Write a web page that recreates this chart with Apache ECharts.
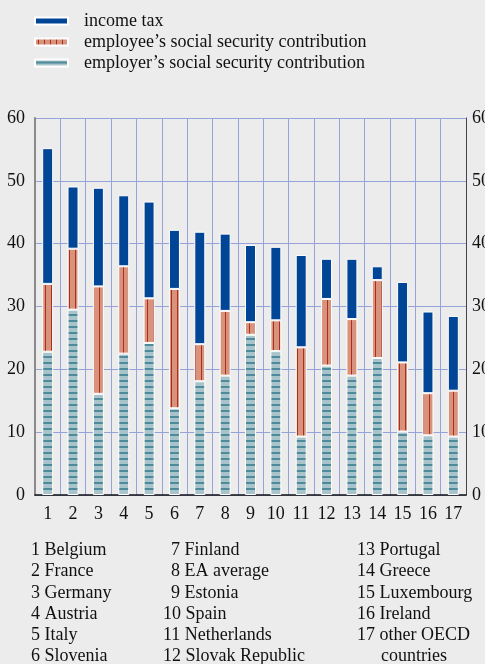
<!DOCTYPE html>
<html>
<head>
<meta charset="utf-8">
<script src="https://cdn.jsdelivr.net/npm/echarts@6/dist/echarts.min.js"></script>
<style>
  html, body { margin: 0; padding: 0; background: #ececec; }
  #chart { width: 485px; height: 664px; }
</style>
</head>
<body>
<div id="chart"></div>
<script>
// categories (numbers on the x axis)
var categories = ['1','2','3','4','5','6','7','8','9','10','11','12','13','14','15','16','17'];
// country names for the key under the chart
var countries = ['Belgium','France','Germany','Austria','Italy','Slovenia','Finland','EA average',
  'Estonia','Spain','Netherlands','Slovak Republic','Portugal','Greece','Luxembourg','Ireland','other OECD'];

// % of labour cost
var incomeTax = [21.6, 9.9, 15.7, 11.3, 15.4, 9.4, 17.9, 12.3, 12.3, 11.7, 14.7, 6.4, 9.6, 2.2, 12.8, 13.0, 11.9];
var employeeSSC = [10.8, 9.7, 17.1, 13.9, 7.1, 19.0, 5.9, 10.3, 2.0, 4.9, 14.2, 10.6, 9.0, 12.4, 11.0, 6.7, 7.3];
var employerSSC = [22.8, 29.5, 16.1, 22.5, 24.2, 13.8, 18.1, 19.0, 25.5, 22.9, 9.3, 20.6, 19.0, 21.8, 10.1, 9.5, 9.3];

var serif = '"Liberation Serif", "DejaVu Serif", serif';

//  pattern fills
function stripes(w, h, bg, fg, draw) {
  var c = document.createElement('canvas');
  c.width = w; c.height = h;
  var ctx = c.getContext('2d');
  ctx.fillStyle = bg;
  ctx.fillRect(0, 0, w, h);
  ctx.fillStyle = fg;
  draw(ctx);
  return { image: c, repeat: 'repeat' };
}
var employeePattern = stripes(6, 4, '#d9937d', '#a9301e', function (ctx) { ctx.fillRect(3, 0, 1, 4); });
var employerPattern = stripes(4, 6, '#a9c3cb', '#4d8b9b', function (ctx) { ctx.fillRect(0, 2, 4, 2); });

var myChart = echarts.init(document.getElementById('chart'));

//  key under the chart
var graphics = [];
var colX = [31, 163, 357];
var rowTop = 541.5, rowStep = 21.2;
countries.forEach(function (name, i) {
  var col = Math.floor(i / 6), row = i % 6;
  var x = colX[col];
  if (col === 1 && i < 9) x = 171;
  graphics.push({
    type: 'text', left: x, top: rowTop + row * rowStep,
    style: { text: (i + 1) + ' ' + name, font: '18px ' + serif, fill: '#111' }
  });
});
graphics.push({
  type: 'text', left: 381, top: rowTop + 5 * rowStep,
  style: { text: 'countries', font: '18px ' + serif, fill: '#111' }
});

var barStyle = { borderColor: '#ffffff', borderWidth: 1 };

var option = {
  backgroundColor: '#ececec',
  animation: false,
  legend: {
    orient: 'vertical',
    left: 34,
    top: 12,
    padding: 0,
    itemWidth: 33,
    itemHeight: 7,
    itemGap: 3,
    icon: 'rect',
    data: ['income tax', 'employee\u2019s social security contribution', 'employer\u2019s social security contribution'],
    textStyle: { fontFamily: serif, fontSize: 18, color: '#111', padding: [0, 0, 0, 11] }
  },
  grid: { left: 35, right: 19, top: 118, bottom: 169, containLabel: false, outerBoundsMode: 'none' },
  xAxis: {
    type: 'category',
    data: categories,
    axisLine: { lineStyle: { color: '#111', width: 1.5 } },
    axisTick: { length: 6, lineStyle: { color: '#111', width: 1.5 } },
    axisLabel: { fontFamily: serif, fontSize: 18, color: '#111', margin: 10 },
    splitLine: { show: true, lineStyle: { color: '#96a3da', width: 1 } }
  },
  yAxis: [{
    type: 'value',
    min: 0, max: 60, interval: 10,
    axisLine: { show: true, lineStyle: { color: '#8a8a8a', width: 2 } },
    axisTick: { show: false },
    axisLabel: { fontFamily: serif, fontSize: 18, color: '#111', margin: 10 },
    splitLine: { lineStyle: { color: '#96a3da', width: 1 } }
  }, {
    type: 'value',
    position: 'right',
    min: 0, max: 60, interval: 10,
    axisLine: { show: true, lineStyle: { color: '#444', width: 1 } },
    axisTick: { show: false },
    axisLabel: { fontFamily: serif, fontSize: 18, color: '#111', margin: 6 },
    splitLine: { show: false }
  }],
  graphic: graphics,
  series: [{
    name: 'employer\u2019s social security contribution',
    type: 'bar', stack: 'total', barWidth: 11,
    itemStyle: Object.assign({ color: employerPattern }, barStyle),
    data: employerSSC
  }, {
    name: 'employee\u2019s social security contribution',
    type: 'bar', stack: 'total', barWidth: 11,
    itemStyle: Object.assign({ color: employeePattern }, barStyle),
    data: employeeSSC
  }, {
    name: 'income tax',
    type: 'bar', stack: 'total', barWidth: 11,
    itemStyle: Object.assign({ color: '#004596' }, barStyle),
    data: incomeTax
  }]
};
myChart.setOption(option);
</script>
</body>
</html>
